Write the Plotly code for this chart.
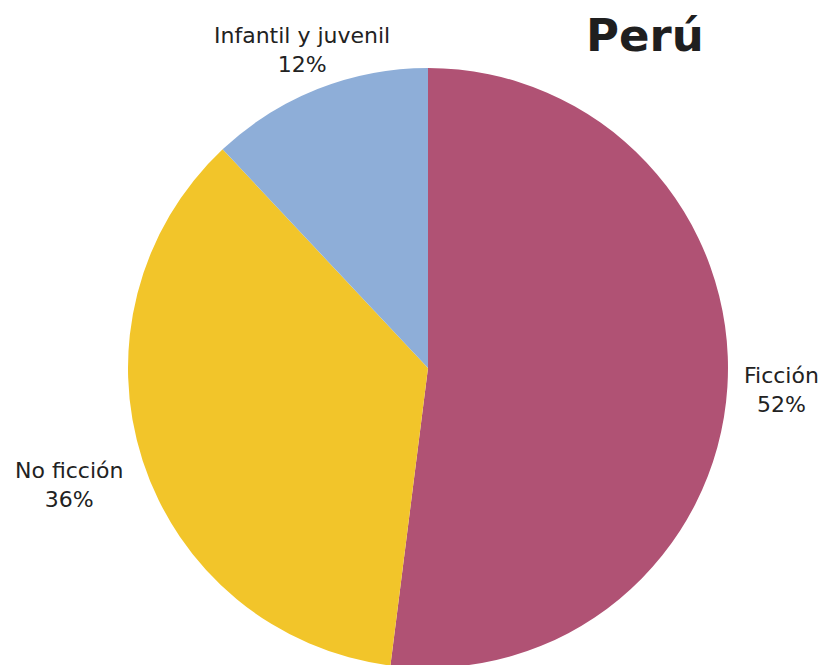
import math
import plotly.graph_objects as go

# Distribución por género editorial - Perú
categorias = ['Ficción', 'No ficción', 'Infantil y juvenil']
porcentajes = [52, 36, 12]
colores = ['#B05274', '#F2C52A', '#8EAED8']

W, H = 826, 665
# the page body adds an 8px offset, so positions are in figure pixels
cx, cy, r = 420, 360, 300
dist_etiqueta = [1.18, 1.26, 1.14]
fuente = 'DejaVu Sans'

fig = go.Figure()
fig.add_trace(go.Pie(
    labels=categorias,
    values=porcentajes,
    sort=False,
    direction='clockwise',
    rotation=0,
    marker=dict(colors=colores, line=dict(width=0)),
    textinfo='none',
    hoverinfo='label+percent',
    domain=dict(x=[(cx - r) / W, (cx + r) / W],
                y=[(H - cy - r) / H, (H - cy + r) / H]),
    showlegend=False,
))

# etiquetas fuera de la torta, en el ángulo medio de cada porción
total = sum(porcentajes)
acum = 0
for cat, val, k in zip(categorias, porcentajes, dist_etiqueta):
    ang = math.radians((acum + val / 2) / total * 360)
    acum += val
    px = cx + k * r * math.sin(ang)
    py = cy - k * r * math.cos(ang)
    fig.add_annotation(
        text=f'{cat}<br>{round(val / total * 100)}%',
        x=px / W, y=1 - py / H, xref='paper', yref='paper',
        xanchor='center', yanchor='middle', showarrow=False,
        font=dict(family=fuente, size=22, color='#222222'),
    )

fig.add_annotation(
    text='<b>Perú</b>', x=637 / W, y=1 - 27 / H, xref='paper', yref='paper',
    xanchor='center', yanchor='middle', showarrow=False,
    font=dict(family=fuente, size=45, color='#1f1f1f'),
)

fig.update_layout(
    width=W, height=H,
    margin=dict(l=0, r=0, t=0, b=0),
    paper_bgcolor='white',
    plot_bgcolor='white',
)

fig.write_html("out.html")
